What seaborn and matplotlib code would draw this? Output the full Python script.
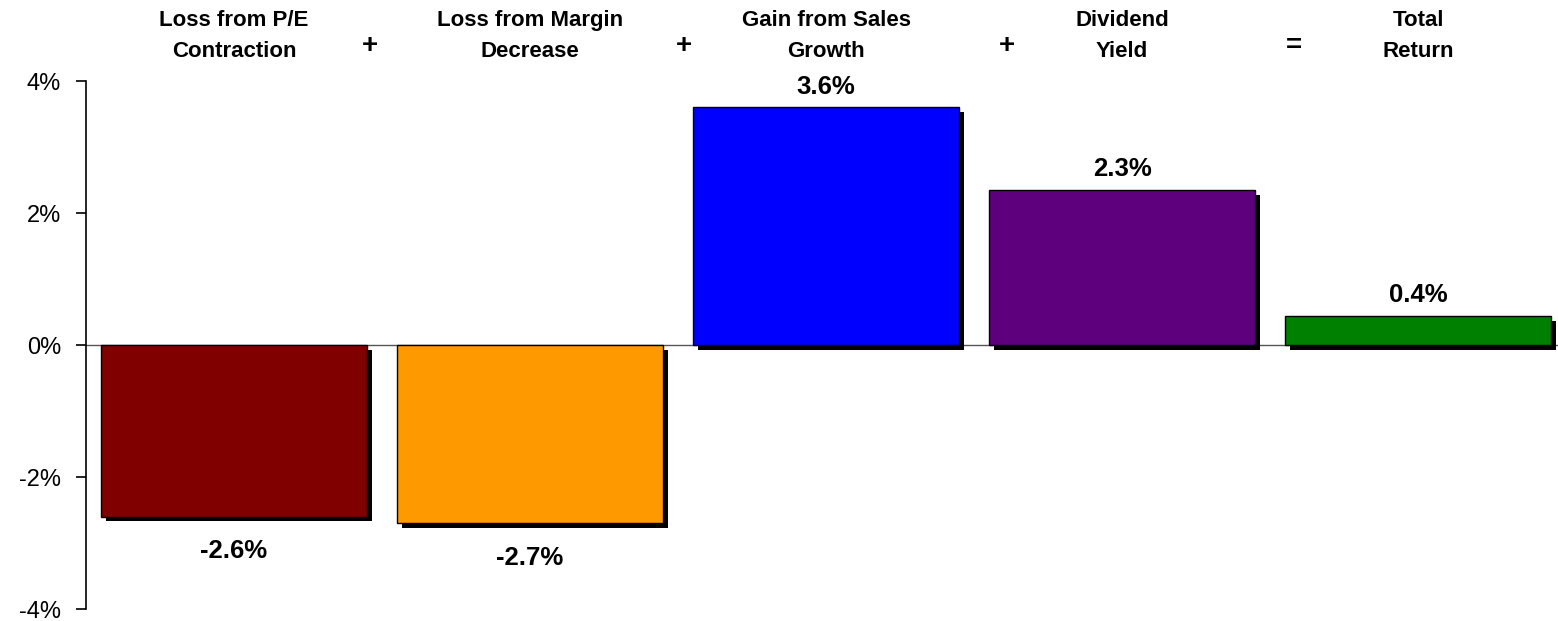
import matplotlib
matplotlib.use("Agg")
import matplotlib.pyplot as plt
import matplotlib.patheffects as pe
import matplotlib.transforms as mtransforms
import seaborn as sns
import pandas as pd

categories = ["Loss from P/E\nContraction", "Loss from Margin\nDecrease",
              "Gain from Sales\nGrowth", "Dividend\nYield", "Total\nReturn"]
values = [-2.6, -2.7, 3.6, 2.35, 0.44]
value_labels = ["-2.6%", "-2.7%", "3.6%", "2.3%", "0.4%"]
operators = ["+", "+", "+", "="]
operator_pos = [0.46, 1.52, 2.61, 3.58]
colors = ["#800000", "#FF9900", "#0000FF", "#5E007E", "#008000"]
yticks = [-4, -2, 0, 2, 4]
ytick_labels = ["-4%", "-2%", "0%", "2%", "4%"]

sns.set_theme(style="white")
plt.rcParams['font.family'] = ['Liberation Sans', 'DejaVu Sans']
plt.rcParams['text.color'] = 'black'
plt.rcParams['ytick.color'] = 'black'
plt.rcParams['ytick.labelcolor'] = 'black'

W, H = 1558, 621
fig = plt.figure(figsize=(W / 100, H / 100), dpi=100)
ax = fig.add_axes([86 / W, (H - 609) / H, 1480 / W, 528 / H])

df = pd.DataFrame({"cat": categories, "val": values})
sns.barplot(data=df, x="cat", y="val", hue="cat", palette=colors, legend=False,
            width=0.9, edgecolor="black", linewidth=1, ax=ax, saturation=1)

for p in ax.patches:
    p.set_path_effects([pe.SimplePatchShadow(offset=(3.5, -3.5), shadow_rgbFace="black", alpha=1),
                        pe.Normal()])

ax.axhline(0, color="#555555", lw=1, zorder=0.5)
ax.set_xlim(-0.5, 4.5)
ax.set_ylim(-4, 4)
ax.set_yticks(yticks)
ax.set_yticklabels(ytick_labels, fontsize=17, color="black")
ax.set_xticks([])
ax.set_xlabel("")
ax.set_ylabel("")
for s in ["top", "right", "bottom"]:
    ax.spines[s].set_visible(False)
ax.spines["left"].set_color("black")
ax.spines["left"].set_linewidth(1.2)
ax.tick_params(axis="y", which="both", left=True, length=7, width=1.2, color="black",
               pad=11, direction="out")

for i, (v, lab) in enumerate(zip(values, value_labels)):
    if v >= 0:
        ax.annotate(lab, (i, v), xytext=(0, 15), textcoords="offset points",
                    ha="center", va="center", fontsize=18.5, fontweight="bold", color="black")
    else:
        ax.annotate(lab, (i, v), xytext=(0, -25), textcoords="offset points",
                    ha="center", va="center", fontsize=18.5, fontweight="bold", color="black")

trans = mtransforms.blended_transform_factory(ax.transData, fig.transFigure)
for i, c in enumerate(categories):
    ax.text(i, 1 - 36 / H, c, transform=trans, ha="center", va="center",
            fontsize=16, fontweight="bold", linespacing=1.6, color="black")
for x, op in zip(operator_pos, operators):
    ax.text(x, 1 - 46 / H, op, transform=trans, ha="center", va="center",
            fontsize=20, fontweight="bold", color="black")

fig.savefig("out.png", dpi=100)
